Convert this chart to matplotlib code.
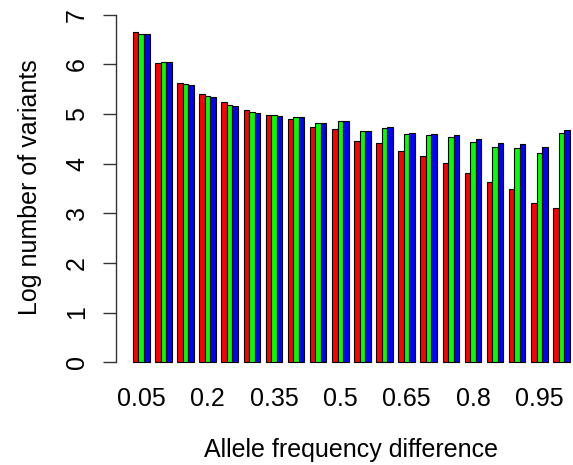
import numpy as np
import matplotlib
matplotlib.use("Agg")
import matplotlib.pyplot as plt

plt.rcParams['font.family'] = ['Liberation Sans', 'DejaVu Sans']

# 等位基因频率差 0.05 .. 1.0
freq = ["0.05", "0.1", "0.15", "0.2", "0.25", "0.3", "0.35", "0.4", "0.45", "0.5",
        "0.55", "0.6", "0.65", "0.7", "0.75", "0.8", "0.85", "0.9", "0.95", "1"]
red_vals = [6.65, 6.03, 5.62, 5.41, 5.24, 5.09, 4.98, 4.91, 4.74, 4.69,
            4.46, 4.42, 4.26, 4.15, 4.01, 3.82, 3.64, 3.49, 3.21, 3.10]
green_vals = [6.62, 6.06, 5.60, 5.36, 5.18, 5.04, 4.98, 4.94, 4.82, 4.86,
              4.66, 4.71, 4.60, 4.57, 4.54, 4.44, 4.34, 4.31, 4.22, 4.61]
blue_vals = [6.62, 6.06, 5.58, 5.35, 5.17, 5.03, 4.97, 4.94, 4.82, 4.86,
             4.66, 4.73, 4.62, 4.60, 4.57, 4.49, 4.41, 4.39, 4.33, 4.68]
tick_every = 3

W, H = 573, 465
fs = 18
fig = plt.figure(figsize=(W / 100, H / 100), dpi=100)
# 坐标区按像素放置
ax = fig.add_axes([116 / W, (H - 376) / H, (W - 116) / W, 375 / H])

n = len(freq)
# R barplot(beside=TRUE) 布局: 每组3根柱, 组间空1
starts = 1 + 4 * np.arange(n)
for k, (vals, col) in enumerate([(red_vals, "#FF0000"), (green_vals, "#00FF00"), (blue_vals, "#0000FF")]):
    ax.bar(starts + k, vals, width=1.0, align="edge", color=col,
           edgecolor="black", linewidth=0.8)

ax.set_xlim(-2.07, 80.6)
ax.set_ylim(-0.28, 7.28)

for s in ["top", "right", "bottom"]:
    ax.spines[s].set_visible(False)
ax.spines["left"].set_bounds(0, 7)
ax.spines["left"].set_color("#333333")
ax.spines["left"].set_linewidth(1.0)

ax.set_yticks(range(8))
ax.set_yticklabels([str(i) for i in range(8)], rotation=90, va="center", fontsize=fs)
ax.tick_params(axis="y", length=9.5, width=1.0, color="#333333", pad=10)

idx = np.arange(0, n, tick_every)
ax.set_xticks(starts[idx] + 1.5)
ax.set_xticklabels([freq[i] for i in idx], fontsize=fs)
ax.tick_params(axis="x", length=0, pad=8)

fig.text(351 / W, 1 - 450 / H, "Allele frequency difference", ha="center", va="center", fontsize=fs)
fig.text(30 / W, 1 - 187.5 / H, "Log number of variants", ha="center", va="center",
         rotation=90, fontsize=fs)

fig.savefig("out.png", dpi=100)
